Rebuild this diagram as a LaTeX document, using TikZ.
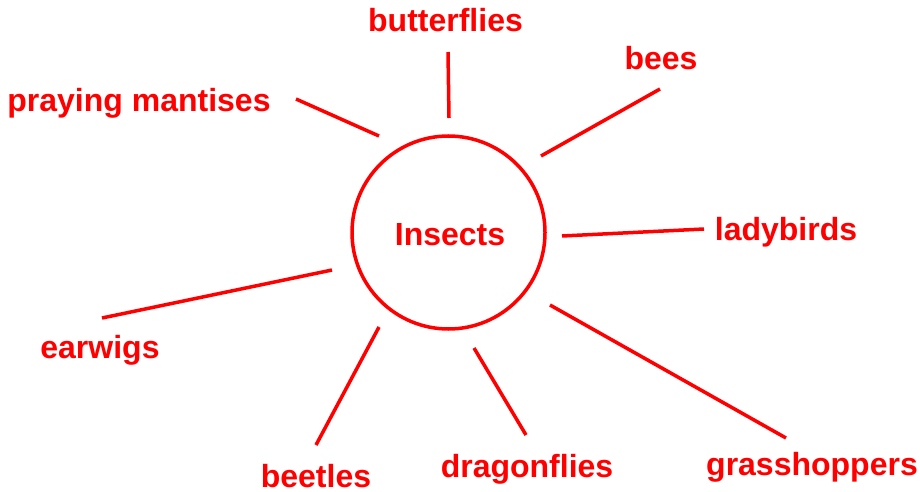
\documentclass[tikz,border=0pt]{standalone}
\usepackage{fontspec}
\setmainfont{Liberation Sans}
\begin{document}
\begin{tikzpicture}[x=1pt,y=-1pt,
  lbl/.style={text=red,font=\fontsize{32}{36}\selectfont\bfseries,anchor=base,inner sep=0pt},
  spoke/.style={draw=red,line width=3.5pt},
  hub/.style={draw=red,line width=3.5pt,circle,minimum size=193pt,inner sep=0pt}]
\useasboundingbox (0,0) rectangle (920,492);
\node[hub] (c) at (448.5,232.5) {};
\node[lbl] (ins) at (450,245) {Insects};
\node[lbl] (bf) at (445.5,32) {butterflies};
\node[lbl] (be) at (661,70) {bees};
\node[lbl] (pm) at (139,112) {praying mantises};
\node[lbl] (lb) at (786,240) {ladybirds};
\node[lbl] (ew) at (100,358) {earwigs};
\node[lbl] (bt) at (316,487) {beetles};
\node[lbl] (df) at (527,477) {dragonflies};
\node[lbl] (gh) at (812,475) {grasshoppers};
\coordinate (bf1) at (448,52);  \coordinate (bf2) at (449,118);
\coordinate (be1) at (660,89);  \coordinate (be2) at (541,156);
\coordinate (pm1) at (296,99);  \coordinate (pm2) at (379,136);
\coordinate (lb1) at (704,229); \coordinate (lb2) at (562,236);
\coordinate (ew1) at (102,318); \coordinate (ew2) at (332,270);
\coordinate (bt1) at (316,445); \coordinate (bt2) at (379,327);
\coordinate (df1) at (526,435); \coordinate (df2) at (474,348);
\coordinate (gh1) at (786,438); \coordinate (gh2) at (550,305);
\draw[spoke] (bf1) -- (bf2);
\draw[spoke] (be1) -- (be2);
\draw[spoke] (pm1) -- (pm2);
\draw[spoke] (lb1) -- (lb2);
\draw[spoke] (ew1) -- (ew2);
\draw[spoke] (bt1) -- (bt2);
\draw[spoke] (df1) -- (df2);
\draw[spoke] (gh1) -- (gh2);
\end{tikzpicture}
\end{document}
